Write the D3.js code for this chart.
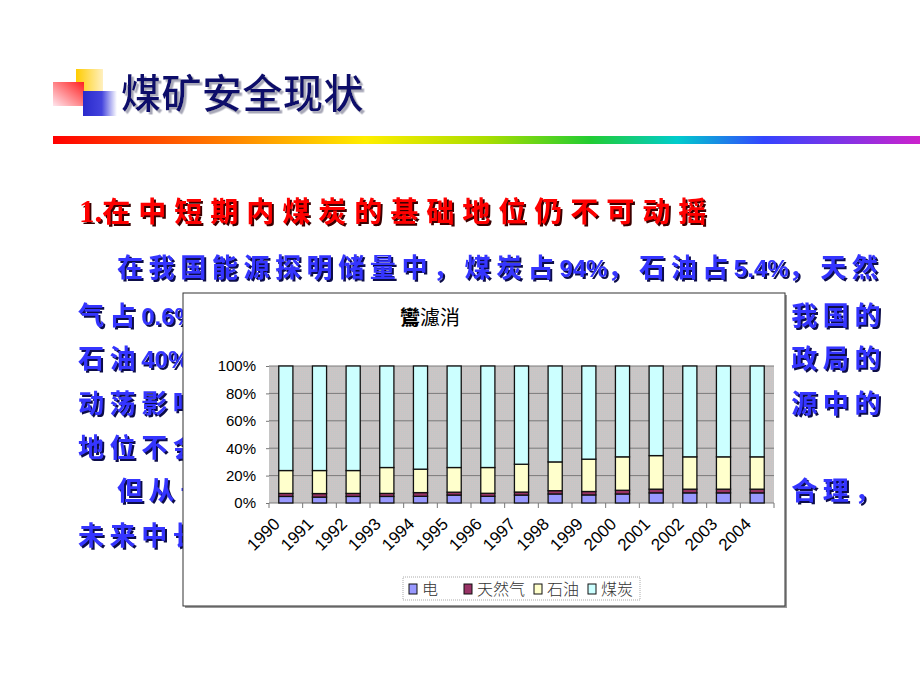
<!DOCTYPE html>
<html>
<head>
<meta charset="utf-8">
<script src="https://cdn.jsdelivr.net/npm/d3@7"></script>
<style>
  body { margin: 0; background: #fff; }
  svg { display: block; }
</style>
</head>
<body>
<div id="slide"></div>
<script>
const years = ['1990', '1991', '1992', '1993', '1994', '1995', '1996', '1997',
    '1998', '1999', '2000', '2001', '2002', '2003', '2004'];

// shares in percent, bottom to top
const hydro = [4.8, 4.3, 4.8, 4.8, 4.9, 5.8, 4.9, 5.8, 6.6, 5.9, 6.6, 7.4, 7.4, 7.4, 7.4];
const gas   = [2.2, 2.6, 2.2, 2.2, 2.7, 2.1, 2.2, 2.2, 2.4, 2.5, 2.7, 2.7, 2.7, 2.7, 2.7];
const oil   = [16.7, 16.8, 16.7, 18.9, 17.1, 18.0, 18.8, 20.3, 21.0, 23.6, 24.4, 24.5, 23.6, 23.6, 23.6];
const coal  = [76.3, 76.3, 76.3, 74.1, 75.3, 74.1, 74.1, 71.7, 70.0, 68.0, 66.3, 65.4, 66.3, 66.3, 66.3];

const seriesKeys = ['hydro', 'gas', 'oil', 'coal'];
const seriesNames = ['电', '天然气', '石油', '煤炭'];
const seriesColors = ['#9999ff', '#993366', '#ffffcc', '#ccffff'];
const yTicks = [0, 0.2, 0.4, 0.6, 0.8, 1];

const chartTitle = '鸞濾消';
const slideTitle = '煤矿安全现状';
const heading = '1.在中短期内煤炭的基础地位仍不可动摇';

// visible pieces of the paragraph (middle is hidden by the chart)
const leftLines = [
    {x: 117, y: 277, t: '在我国能源探明储量中，煤炭占94%，石油占5.4%，天然'},
    {x: 78, y: 325, t: '气占0.6%'},
    {x: 78, y: 368, t: '石油40%'},
    {x: 78, y: 413, t: '动荡影响'},
    {x: 78, y: 457, t: '地位不会'},
    {x: 117, y: 500, t: '但从长'},
    {x: 78, y: 545, t: '未来中长'}
];
const rightLines = [
    {y: 325, t: '我国的'},
    {y: 368, t: '政局的'},
    {y: 413, t: '源中的'},
    {y: 500, t: '不合理，'}
];

const table = years.map((yr, i) => ({
    year: yr, hydro: hydro[i], gas: gas[i], oil: oil[i], coal: coal[i]
}));

const W = 920, H = 690;
const svg = d3.select('#slide').append('svg')
    .attr('width', W)
    .attr('height', H);

const defs = svg.append('defs');

// rainbow rule
const rb = defs.append('linearGradient').attr('id', 'rainbow');
[['0', '#ff0000'], ['0.2', '#ff8000'], ['0.36', '#ffee00'], ['0.5', '#aadd00'],
 ['0.62', '#22cc33'], ['0.72', '#00cccc'], ['0.82', '#3344ff'], ['1', '#cc22cc']]
    .forEach(s => rb.append('stop').attr('offset', s[0]).attr('stop-color', s[1]));

const gy = defs.append('linearGradient').attr('id', 'gYellow');
gy.append('stop').attr('offset', '0').attr('stop-color', '#ffcc00');
gy.append('stop').attr('offset', '1').attr('stop-color', '#fff0c0');

const gr = defs.append('linearGradient').attr('id', 'gRed')
    .attr('x1', 0).attr('y1', 1).attr('x2', 1).attr('y2', 0);
gr.append('stop').attr('offset', '0').attr('stop-color', '#ffe6ee');
gr.append('stop').attr('offset', '1').attr('stop-color', '#ff2020');

const gb = defs.append('linearGradient').attr('id', 'gBlue');
gb.append('stop').attr('offset', '0').attr('stop-color', '#2a2acc');
gb.append('stop').attr('offset', '0.55').attr('stop-color', '#4444dd');
gb.append('stop').attr('offset', '1').attr('stop-color', '#ffffff');

// dithered plot background
const pat = defs.append('pattern').attr('id', 'dither')
    .attr('width', 2).attr('height', 2).attr('patternUnits', 'userSpaceOnUse');
pat.append('rect').attr('width', 2).attr('height', 2).attr('fill', '#c6c6c6');
pat.append('rect').attr('width', 1).attr('height', 1).attr('fill', '#d0c4c4');

// drop shadows for slide text
function addShadow(id, color, d) {
    defs.append('filter').attr('id', id)
        .attr('x', '-5%').attr('y', '-20%').attr('width', '110%').attr('height', '140%')
        .append('feDropShadow')
        .attr('dx', d).attr('dy', d).attr('stdDeviation', 0.3)
        .attr('flood-color', color).attr('flood-opacity', 1);
}
addShadow('shTitle', '#a8a8b8', 2.5);
addShadow('shRed', '#3a0000', 2);
addShadow('shBlue', '#10104a', 2);

// title decoration squares
svg.append('rect').attr('x', 76).attr('y', 69).attr('width', 27).attr('height', 25).attr('fill', 'url(#gYellow)');
svg.append('rect').attr('x', 53).attr('y', 82).attr('width', 31).attr('height', 24).attr('fill', 'url(#gRed)');
svg.append('rect').attr('x', 83).attr('y', 91).attr('width', 34).attr('height', 25).attr('fill', 'url(#gBlue)');

// writes a line, spacing out the CJK runs but not the latin ones
function slideText(g, x, y, str, o) {
    const t = g.append('text')
        .attr('x', x).attr('y', y)
        .attr('text-anchor', o.anchor || 'start')
        .attr('fill', o.fill)
        .attr('filter', `url(#${o.filter})`)
        .style('font-weight', o.weight);
    str.match(/[\x00-\x7F]+|[^\x00-\x7F]+/g).forEach(run => {
        const latin = /^[\x00-\x7F]/.test(run);
        t.append('tspan')
            .style('font-family', latin ? o.latinFamily : o.family)
            .style('font-size', (latin ? o.latinSize : o.size) + 'px')
            .style('letter-spacing', (latin ? 0 : o.ls) + 'px')
            .text(run);
    });
    return t;
}

const txt = svg.append('g');
slideText(txt, 121, 108, slideTitle, {
    size: 40, weight: 500, ls: 0.5, family: '"Noto Sans CJK SC", sans-serif',
    fill: '#0b0b6b', filter: 'shTitle'
});

svg.append('rect')
    .attr('x', 53).attr('y', 136)
    .attr('width', W - 53).attr('height', 8)
    .attr('fill', 'url(#rainbow)');

slideText(txt, 79, 222, heading, {
    size: 28, weight: 700, ls: 8, family: '"Noto Sans CJK SC", sans-serif',
    latinSize: 31, latinFamily: '"Liberation Serif", serif',
    fill: '#ff0000', filter: 'shRed'
});

const bodyOpts = {
    size: 26, weight: 700, ls: 5.6, family: '"Noto Sans CJK SC", sans-serif',
    latinSize: 24, latinFamily: '"Liberation Sans", Arial, sans-serif',
    fill: '#3535ff', filter: 'shBlue'
};
leftLines.forEach(l => slideText(txt, l.x, l.y, l.t, bodyOpts));
rightLines.forEach(l => slideText(txt, 886, l.y, l.t, Object.assign({}, bodyOpts, {anchor: 'end'})));

// ---- embedded chart ----
const box = {x: 183, y: 293, w: 602, h: 313};
svg.append('rect')
    .attr('x', box.x + 2).attr('y', box.y + 2)
    .attr('width', box.w).attr('height', box.h)
    .attr('fill', '#999');
svg.append('rect')
    .attr('x', box.x).attr('y', box.y)
    .attr('width', box.w).attr('height', box.h)
    .attr('fill', '#fff')
    .attr('stroke', '#333')
    .attr('stroke-width', 1);

const plot = {left: 269, right: 774, top: 366, bottom: 503};

const x = d3.scaleBand()
    .domain(years)
    .range([plot.left, plot.right])
    .paddingInner(0.58)
    .paddingOuter(0.29);

const y = d3.scaleLinear()
    .domain([0, 1])
    .range([plot.bottom, plot.top]);

const chart = svg.append('g');

chart.append('rect')
    .attr('x', plot.left).attr('y', plot.top)
    .attr('width', plot.right - plot.left)
    .attr('height', plot.bottom - plot.top)
    .attr('fill', 'url(#dither)');

// gridlines
chart.append('g')
    .selectAll('line')
    .data(yTicks)
    .join('line')
    .attr('x1', plot.left).attr('x2', plot.right)
    .attr('y1', d => y(d)).attr('y2', d => y(d))
    .attr('stroke', '#7a7a7a')
    .attr('stroke-width', 1);

// y axis
const yAxis = chart.append('g')
    .attr('transform', `translate(${plot.left},0)`)
    .call(d3.axisLeft(y).tickValues(yTicks).tickFormat(d3.format('.0%')).tickSize(3).tickPadding(10));
yAxis.select('.domain').remove();
yAxis.selectAll('line').attr('stroke', '#777');
yAxis.selectAll('text')
    .style('font-family', '"Liberation Sans", Arial, sans-serif')
    .style('font-size', '15px')
    .attr('fill', '#000');

// x axis ticks at category boundaries
const step = x.step();
const bounds = years.map(d => x(d) - (step - x.bandwidth()) / 2).concat([plot.right]);
chart.append('g')
    .selectAll('line')
    .data(bounds)
    .join('line')
    .attr('x1', d => d).attr('x2', d => d)
    .attr('y1', plot.bottom).attr('y2', plot.bottom + 5)
    .attr('stroke', '#777');

chart.append('g')
    .selectAll('text')
    .data(years)
    .join('text')
    .attr('transform', d => `translate(${x(d) + x.bandwidth() / 2 - 5},${plot.bottom + 22}) rotate(-45)`)
    .attr('text-anchor', 'end')
    .style('font-family', '"Liberation Sans", Arial, sans-serif')
    .style('font-size', '17px')
    .attr('fill', '#000')
    .text(d => d);

// stacked bars
const stack = d3.stack().keys(seriesKeys).offset(d3.stackOffsetExpand);
const layers = stack(table);

chart.append('g')
    .selectAll('g')
    .data(layers)
    .join('g')
    .attr('fill', (d, i) => seriesColors[i])
    .selectAll('rect')
    .data(d => d)
    .join('rect')
    .attr('x', d => x(d.data.year))
    .attr('y', d => y(d[1]))
    .attr('width', x.bandwidth())
    .attr('height', d => y(d[0]) - y(d[1]))
    .attr('stroke', '#111')
    .attr('stroke-width', 1.3);

// chart title
chart.append('text')
    .attr('x', 400).attr('y', 325)
    .style('font-family', '"Noto Sans CJK SC", sans-serif')
    .style('font-size', '20px')
    .attr('fill', '#000')
    .call(t => {
        t.append('tspan').style('font-weight', 900).text(chartTitle.slice(0, 1));
        t.append('tspan').style('font-weight', 400).text(chartTitle.slice(1));
    });

// legend
const legendX = [409, 464, 534, 588];
const legend = chart.append('g');
legend.append('rect')
    .attr('x', 403).attr('y', 577)
    .attr('width', 237).attr('height', 23)
    .attr('fill', '#fff')
    .attr('stroke', '#aaa')
    .attr('stroke-dasharray', '1,1');

const items = legend.selectAll('g.item')
    .data(seriesNames)
    .join('g')
    .attr('class', 'item')
    .attr('transform', (d, i) => `translate(${legendX[i]},589)`);
items.append('rect')
    .attr('x', 0).attr('y', -5)
    .attr('width', 8).attr('height', 10)
    .attr('fill', (d, i) => seriesColors[i])
    .attr('stroke', '#111')
    .attr('stroke-width', 1);
items.append('text')
    .attr('x', 13).attr('y', 6)
    .style('font-family', '"Noto Sans CJK SC", sans-serif')
    .style('font-size', '16px')
    .style('font-weight', 300)
    .attr('fill', '#333')
    .text(d => d);
</script>
</body>
</html>
